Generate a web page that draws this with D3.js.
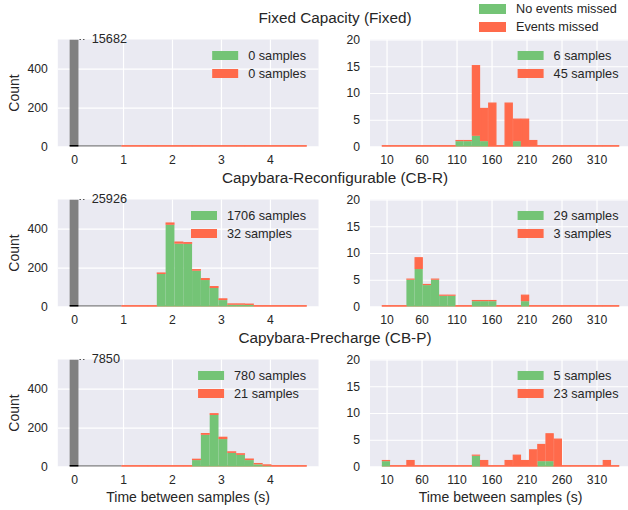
<!DOCTYPE html>
<html>
<head>
<meta charset="utf-8">
<script src="https://cdn.jsdelivr.net/npm/d3@7"></script>
<style>
body{margin:0;background:#fff;}
text{font-family:"Liberation Sans",Arial,sans-serif;fill:#262626;}
</style>
</head>
<body>
<svg id="chart" width="628" height="510"></svg>
<script>
// ---- data ----
var panelTitles = ["Fixed Capacity (Fixed)", "Capybara-Reconfigurable (CB-R)", "Capybara-Precharge (CB-P)"];
var zeroCounts = [15682, 25926, 7850];          // grey bar at 0, annotated
var legendLabels = ["No events missed", "Events missed"];

// left column: time between samples, 21 bins of 0.18 s starting at 0.97 s
var timeBinStart = 0.97, timeBinWidth = 0.18;
var fixedTimeOk     = [0,0,0,0,0,0,0,0,0,0,0,0,0,0,0,0,0,0,0,0,0];
var fixedTimeMissed = [0,0,0,0,0,0,0,0,0,0,0,0,0,0,0,0,0,0,0,0,0];
var cbrTimeOk       = [0,0,0,0,167,420,323,322,184,136,95,33,9,9,8,0,0,0,0,0,0];
var cbrTimeMissed   = [0,0,0,0,2,6,5,3,2,4,4,3,1,1,1,0,0,0,0,0,0];
var cbpTimeOk       = [0,0,0,0,0,0,0,0,33,163,265,141,70,60,33,11,4,0,0,0,0];
var cbpTimeMissed   = [0,0,0,0,0,0,0,0,1,3,3,6,2,2,2,1,1,0,0,0,0];

// right column: 29 bins of 11.69 s starting at 3.3 s
var gapBinStart = 3.3, gapBinWidth = 11.69;
var fixedGapOk     = [0,0,0,0,0,0,0,0,0,1,1,2,1,0,0,0,1,0,0,0,0,0,0,0,0,0,0,0,0];
var fixedGapMissed = [0,0,0,0,0,0,0,0,0,0,0,13,6,8,0,8,4,5,1,0,0,0,0,0,0,0,0,0,0];
var cbrGapOk       = [0,0,0,5,7,4,5,2,2,0,0,1,1,1,0,0,0,1,0,0,0,0,0,0,0,0,0,0,0];
var cbrGapMissed   = [0,0,0,0,2,0,0,0,0,0,0,0,0,0,0,0,0,1,0,0,0,0,0,0,0,0,0,0,0];
var cbpGapOk       = [1,0,0,0,0,0,0,0,0,0,0,2,0,0,0,0,0,0,0,1,1,0,0,0,0,0,0,0,0];
var cbpGapMissed   = [0,0,0,1,0,0,0,0,0,0,0,0,1,0,0,1,2,1,3,3,5,5,0,0,0,0,0,1,0];

var timeTicks = [0,1,2,3,4];
var gapTicks = [10,60,110,160,210,260,310];
var countTicks = [0,200,400];
var gapCountTicks = [0,5,10,15,20];

var timeOk = [fixedTimeOk, cbrTimeOk, cbpTimeOk];
var timeMissed = [fixedTimeMissed, cbrTimeMissed, cbpTimeMissed];
var gapOk = [fixedGapOk, cbrGapOk, cbpGapOk];
var gapMissed = [fixedGapMissed, cbrGapMissed, cbpGapMissed];

// ---- layout ----
var green = "#74c476", red = "#ff6a4b", grey = "#808080", bg = "#eaeaf2";
var tops = [39.5, 199.5, 359.5], panelH = 107;
var svg = d3.select("#chart");

var xTime = d3.scaleLinear().domain([-0.332, 4.992]).range([57.8, 318.5]);
var xGap = d3.scaleLinear().domain([-13.65, 359.25]).range([370, 631]);

function styleText(a){
    a.selectAll("text").attr("font-size", 12.2).attr("fill", "#262626")
        .style("font-family", '"Liberation Sans",Arial,sans-serif');
}

function measure(str){
    var t = svg.append("text").attr("font-size", 12.7).text(str);
    var w = t.node().getComputedTextLength();
    t.remove();
    return w;
}

function drawPanel(p){
    var top = p.top, x = p.x;
    var y = d3.scaleLinear().domain([0, p.yMax]).range([top + panelH, top]);
    var r = x.range();
    var g = svg.append("g");

    g.append("rect").attr("x", r[0]).attr("y", top)
        .attr("width", r[1]-r[0]).attr("height", panelH).attr("fill", bg);

    // grid
    g.append("g").attr("transform", `translate(0,${top+panelH})`)
        .call(d3.axisBottom(x).tickValues(p.xTicks).tickSize(-panelH).tickFormat(""))
        .call(a => a.select(".domain").remove())
        .call(a => a.selectAll("line").attr("stroke", "#fff").attr("stroke-width", 1.2));
    g.append("g").attr("transform", `translate(${r[0]},0)`)
        .call(d3.axisLeft(y).tickValues(p.yTicks).tickSize(-(r[1]-r[0])).tickFormat(""))
        .call(a => a.select(".domain").remove())
        .call(a => a.selectAll("line").attr("stroke", "#fff").attr("stroke-width", 1.2));

    // tick labels, no tick marks
    g.append("g").attr("transform", `translate(0,${top+panelH})`)
        .call(d3.axisBottom(x).tickValues(p.xTicks).tickSize(0).tickPadding(8.5).tickFormat(d3.format("d")))
        .call(a => a.select(".domain").remove())
        .call(styleText);
    g.append("g").attr("transform", `translate(${r[0]},0)`)
        .call(d3.axisLeft(y).tickValues(p.yTicks).tickSize(0).tickPadding(10).tickFormat(d3.format("d")))
        .call(a => a.select(".domain").remove())
        .call(styleText);

    svg.append("clipPath").attr("id", p.clip).append("rect")
        .attr("x", r[0]).attr("y", top).attr("width", r[1]-r[0]).attr("height", panelH + 2);
    var marks = g.append("g").attr("clip-path", `url(#${p.clip})`);

    var bins = p.ok.map((v, i) => ({x0: p.binStart + i*p.binWidth, x1: p.binStart + (i+1)*p.binWidth, ok: v, missed: p.missed[i]}));

    // grey bar of zero gaps
    if(p.zero){
        var h = p.binWidth/2;
        marks.append("rect").attr("x", x(-h)).attr("y", top)
            .attr("width", x(h)-x(-h)).attr("height", panelH).attr("fill", grey);
        marks.append("line").attr("x1", x(h)).attr("x2", x(p.binStart)).attr("y1", y(0)-0.6).attr("y2", y(0)-0.6)
            .attr("stroke", grey).attr("stroke-width", 1.2);
        marks.append("line").attr("x1", x(-h)).attr("x2", x(h)).attr("y1", y(0)-0.8).attr("y2", y(0)-0.8)
            .attr("stroke", "#000").attr("stroke-width", 1.6);
        svg.append("line").attr("x1", x(h)+1).attr("x2", x(h)+8).attr("y1", top).attr("y2", top)
            .attr("stroke", "#555").attr("stroke-width", 1.2).attr("stroke-dasharray", "1.5,2");
        svg.append("text").attr("x", x(h)+13.3).attr("y", top-1).attr("dy", "0.35em")
            .attr("font-size", 12.7).text(p.zero);
    }

    // empty bins of the red histogram still show as a thin red line
    marks.append("line")
        .attr("x1", x(p.binStart)).attr("x2", x(p.binStart + p.ok.length*p.binWidth))
        .attr("y1", y(0)-0.6).attr("y2", y(0)-0.6)
        .attr("stroke", red).attr("stroke-width", 1.2);

    marks.selectAll(".ok").data(bins.filter(d => d.ok > 0)).enter().append("rect")
        .attr("x", d => x(d.x0)).attr("width", d => x(d.x1)-x(d.x0))
        .attr("y", d => y(d.ok)).attr("height", d => y(0)-y(d.ok))
        .attr("fill", green);
    marks.selectAll(".miss").data(bins).enter().append("rect")
        .attr("x", d => x(d.x0)+0.5).attr("width", d => x(d.x1)-x(d.x0)-1)
        .attr("y", d => y(d.ok+d.missed)-0.6).attr("height", d => y(d.ok)-y(d.ok+d.missed)+0.01)
        .attr("fill", red).attr("stroke", red).attr("stroke-width", 1.2);

    // legend with sample totals
    var labels = [d3.sum(p.ok) + " samples", d3.sum(p.missed) + " samples"];
    var lw = d3.max(labels, measure);
    var tx = r[1] - 12.5 - lw;
    if(p.xRight) tx = Math.min(tx, p.xRight - 12.5 - lw);
    labels.forEach(function(lab, i){
        var cy = top + 16 + i*18;
        svg.append("rect").attr("x", tx - 36).attr("y", cy - 4.5).attr("width", 26).attr("height", 9)
            .attr("fill", i == 0 ? green : red);
        svg.append("text").attr("x", tx).attr("y", cy).attr("dy", "0.35em")
            .attr("font-size", 12.7).text(lab);
    });
}

for(var i=0;i<3;i++){
    drawPanel({top: tops[i], x: xTime, yMax: 550, yTicks: countTicks, xTicks: timeTicks,
        ok: timeOk[i], missed: timeMissed[i], binStart: timeBinStart, binWidth: timeBinWidth,
        zero: zeroCounts[i], clip: "clipL" + i});
    drawPanel({top: tops[i], x: xGap, yMax: 20, yTicks: gapCountTicks, xTicks: gapTicks,
        ok: gapOk[i], missed: gapMissed[i], binStart: gapBinStart, binWidth: gapBinWidth,
        zero: null, clip: "clipR" + i});

    svg.append("text").attr("x", 335).attr("y", tops[i] - 16.5)
        .attr("text-anchor", "middle").attr("font-size", 15.3).text(panelTitles[i]);
    svg.append("text").attr("transform", `translate(19,${tops[i] + panelH/2}) rotate(-90)`)
        .attr("text-anchor", "middle").attr("font-size", 14).text("Count");
}

// x labels under the bottom row
[xTime, xGap].forEach(function(x){
    var r = x.range();
    svg.append("text").attr("x", (r[0]+r[1])/2).attr("y", 502)
        .attr("text-anchor", "middle").attr("font-size", 14).text("Time between samples (s)");
});

// figure legend, top right
legendLabels.forEach(function(lab, i){
    var cy = 9 + i*18;
    svg.append("rect").attr("x", 479).attr("y", cy - 5).attr("width", 27).attr("height", 10)
        .attr("fill", i == 0 ? green : red);
    svg.append("text").attr("x", 516).attr("y", cy).attr("dy", "0.35em")
        .attr("font-size", 12.7).text(lab);
});
</script>
</body>
</html>
